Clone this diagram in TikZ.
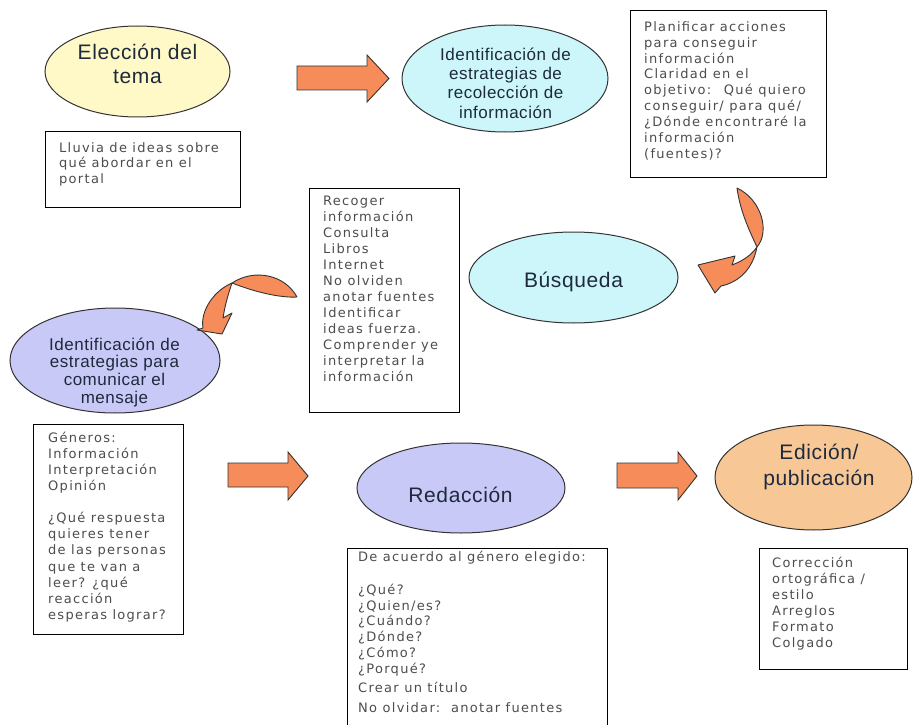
\documentclass[tikz,border=0pt]{standalone}
\usepackage{fontspec}
\usetikzlibrary{shapes.geometric}
\newfontfamily\ellfont[LetterSpace=3]{Liberation Sans}
\newfontfamily\boxfont[LetterSpace=10]{DejaVu Sans}
\definecolor{ellyellow}{HTML}{FFF9C8}
\definecolor{ellcyan}{HTML}{CCF6FA}
\definecolor{ellpurple}{HTML}{C9C9F7}
\definecolor{ellorange}{HTML}{F8C796}
\definecolor{arroworange}{HTML}{F58C5A}
\definecolor{ellline}{HTML}{333333}
\definecolor{ellink}{HTML}{1E2A3C}
\definecolor{boxink}{HTML}{4D4D4D}
\begin{document}
\begin{tikzpicture}[x=1pt,y=-1pt,
  ell/.style={ellipse, draw=ellline, line width=1pt, inner sep=0pt},
  etxt/.style={anchor=north, inner sep=0pt, align=center, text=ellink},
  bigtxt/.style={etxt, font=\ellfont\fontsize{21}{24}\selectfont},
  midtxt/.style={etxt, font=\ellfont\fontsize{17}{19.3}\selectfont},
  infobox/.style={rectangle, draw=black, line width=1.2pt, fill=white, inner sep=0pt, anchor=north west},
  btxt/.style={anchor=north west, inner sep=0pt, align=left, text=boxink, font=\boxfont\fontsize{13}{15.8}\selectfont},
  blockarrow/.style={fill=arroworange, draw=ellline, line width=0.9pt, line join=miter},
  curvearrow/.style={fill=arroworange, draw=ellline, line width=0.9pt, line join=round}
]
\useasboundingbox (0,0) rectangle (914,725);
\fill[white] (0,0) rectangle (914,725);

% ---------- ellipses ----------
\node[ell, fill=ellyellow, minimum width=185pt, minimum height=91pt] (e1) at (137.5,71.5) {};
\node[bigtxt] (e1t) at (137.5,42) {\rule{0pt}{17pt}Elección del\\tema};

\node[ell, fill=ellcyan, minimum width=206pt, minimum height=107pt] (e2) at (505,78.5) {};
\node[midtxt] (e2t) at (505.5,46) {\rule{0pt}{14pt}Identificación de\\estrategias de\\recolección de\\información};

\node[ell, fill=ellcyan, minimum width=209pt, minimum height=91pt] (e3) at (573.5,277.5) {};
\node[bigtxt] (e3t) at (573.5,270) {\rule{0pt}{17pt}Búsqueda};

\node[ell, fill=ellpurple, minimum width=210pt, minimum height=105pt] (e4) at (115,360.5) {};
\node[etxt, font=\ellfont\fontsize{17}{17.7}\selectfont] (e4t) at (114.5,336) {\rule{0pt}{14pt}Identificación de\\estrategias para\\comunicar el\\mensaje};

\node[ell, fill=ellpurple, minimum width=208pt, minimum height=90pt] (e5) at (461,488) {};
\node[bigtxt] (e5t) at (460.5,485) {\rule{0pt}{17pt}Redacción};

\node[ell, fill=ellorange, minimum width=197pt, minimum height=105pt] (e6) at (813.5,477.5) {};
\node[etxt, font=\ellfont\fontsize{21}{26}\selectfont] (e6t) at (819,442) {\rule{0pt}{17pt}Edición/\\publicación};

% ---------- boxes ----------
\node[infobox, minimum width=195pt, minimum height=76pt] (b1) at (45,131) {};
\node[btxt, font=\boxfont\fontsize{13}{15.5}\selectfont] (b1t) at (59,141) {\rule{0pt}{11pt}Lluvia de ideas sobre\\qué abordar en el\\portal};

\node[infobox, minimum width=196pt, minimum height=167pt] (b2) at (630,10) {};
\node[btxt, font=\boxfont\fontsize{13}{15.9}\selectfont] (b2t) at (644,20) {\rule{0pt}{11pt}Planificar acciones\\para conseguir\\información\\Claridad en el\\objetivo:~ Qué quiero\\conseguir/ para qué/\\¿Dónde encontraré la\\información\\(fuentes)?};

\node[infobox, minimum width=150pt, minimum height=224.5pt] (b3) at (309,187.5) {};
\node[btxt, font=\boxfont\fontsize{13}{16}\selectfont] (b3t) at (323,194.5) {\rule{0pt}{11pt}Recoger\\información\\Consulta\\Libros\\Internet\\No olviden\\anotar fuentes\\Identificar\\ideas fuerza.\\Comprender ye\\interpretar la\\información};

\node[infobox, minimum width=150pt, minimum height=210pt] (b4) at (33,424) {};
\node[btxt, font=\boxfont\fontsize{13}{16.1}\selectfont] (b4t) at (48,431) {\rule{0pt}{11pt}Géneros:\\Información\\Interpretación\\Opinión\\[16.1pt]¿Qué respuesta\\quieres tener\\de las personas\\que te van a\\leer? ¿qué\\reacción\\esperas lograr?};

\node[infobox, minimum width=260pt, minimum height=200pt] (b5) at (347,548) {};
\node[btxt] (b5t) at (358,550.5) {\rule{0pt}{11pt}De acuerdo al género elegido:\\[16.7pt]¿Qué?\\¿Quien/es?\\¿Cuándo?\\¿Dónde?\\¿Cómo?\\¿Porqué?\\[3.2pt]Crear un título\\[4.2pt]No olvidar:~~anotar fuentes};

\node[infobox, minimum width=148pt, minimum height=121pt] (b6) at (759,548) {};
\node[btxt, font=\boxfont\fontsize{13}{16}\selectfont] (b6t) at (772,556) {\rule{0pt}{11pt}Corrección\\ortográfica /\\estilo\\Arreglos\\Formato\\Colgado};

% ---------- block arrows ----------
\draw[blockarrow] (297,66) -- (367,66) -- (367,55) -- (389,78.5) -- (367,102) -- (367,90) -- (297,90) -- cycle;
\draw[blockarrow] (228,463) -- (288,463) -- (288,452) -- (308,476) -- (288,500) -- (288,487) -- (228,487) -- cycle;
\draw[blockarrow] (617,463) -- (678,463) -- (678,452) -- (697,476) -- (678,500) -- (678,488) -- (617,488) -- cycle;

% ---------- curved arrows ----------
\draw[curvearrow] (737,188) .. controls (762,200) and (770,232) .. (757,247)
  .. controls (753,268) and (740,282) .. (721,286)
  -- (715,293) -- (698,265) -- (735,256) -- (732,265)
  .. controls (745,260) and (752,254) .. (757,247)
  .. controls (748,228) and (740,210) .. (737,188) -- cycle;

\draw[curvearrow] (297,297) .. controls (285,275) and (255,268) .. (232,283)
  .. controls (215,290) and (200,310) .. (203,328)
  -- (197,330) -- (222,334) -- (232,313) -- (223,318)
  .. controls (225,305) and (228,295) .. (232,283)
  .. controls (255,292) and (280,298) .. (297,297) -- cycle;
\end{tikzpicture}
\end{document}
